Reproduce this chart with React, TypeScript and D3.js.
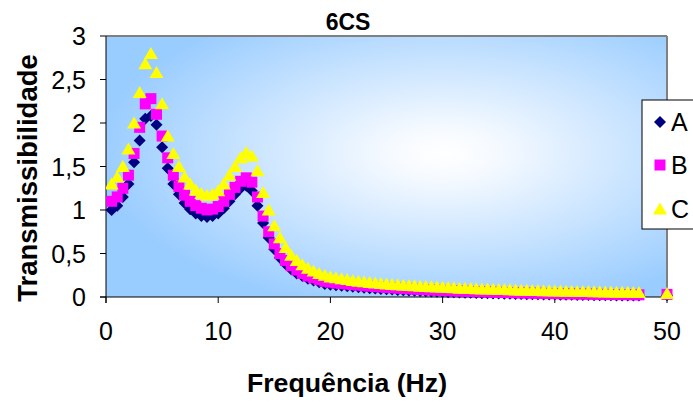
import React from "react";
import * as d3 from "d3";

const title = "6CS";
const xTitle = "Frequência (Hz)";
const yTitle = "Transmissibilidade";
const xTicks = [0, 10, 20, 30, 40, 50];
const yTicks = [0, 0.5, 1, 1.5, 2, 2.5, 3];
const yTickLabels = ["0", "0,5", "1", "1,5", "2", "2,5", "3"];
const seriesNames = ["A", "B", "C"];

const freq = [
  0.5, 1, 1.5, 2, 2.5, 3, 3.5, 4, 4.5, 5, 5.5, 6, 6.5, 7, 7.5, 8, 8.5, 9, 9.5, 10,
  10.5, 11, 11.5, 12, 12.5, 13, 13.5, 14, 14.5, 15, 15.5, 16, 16.5, 17, 17.5, 18, 18.5, 19, 19.5, 20,
  20.5, 21, 21.5, 22, 22.5, 23, 23.5, 24, 24.5, 25, 25.5, 26, 26.5, 27, 27.5, 28, 28.5, 29, 29.5, 30,
  30.5, 31, 31.5, 32, 32.5, 33, 33.5, 34, 34.5, 35, 35.5, 36, 36.5, 37, 37.5, 38, 38.5, 39, 39.5, 40,
  40.5, 41, 41.5, 42, 42.5, 43, 43.5, 44, 44.5, 45, 45.5, 46, 46.5, 47, 47.5, 50,
];

const seriesA = [
  1.0, 1.05, 1.15, 1.3, 1.55, 1.8, 2.05, 2.08, 1.98, 1.72, 1.48, 1.3, 1.18, 1.08, 1.01, 0.96, 0.93, 0.92, 0.93, 0.96,
  1.02, 1.1, 1.18, 1.25, 1.28, 1.22, 1.05, 0.85, 0.68, 0.55, 0.45, 0.38, 0.32, 0.27, 0.24, 0.21, 0.19, 0.17, 0.15, 0.14,
  0.135, 0.13, 0.124, 0.118, 0.112, 0.107, 0.102, 0.097, 0.093, 0.089, 0.085, 0.081, 0.078, 0.075, 0.072, 0.069, 0.066, 0.063, 0.061, 0.058,
  0.056, 0.054, 0.052, 0.05, 0.048, 0.046, 0.044, 0.043, 0.041, 0.04, 0.038, 0.037, 0.035, 0.034, 0.033, 0.032, 0.031, 0.03, 0.029, 0.028,
  0.027, 0.026, 0.025, 0.024, 0.023, 0.022, 0.021, 0.021, 0.02, 0.019, 0.018, 0.018, 0.017, 0.016, 0.016, 0.02,
];

const seriesB = [
  1.1, 1.15, 1.25, 1.4, 1.65, 1.95, 2.22, 2.28, 2.1, 1.85, 1.6, 1.4, 1.27, 1.17, 1.1, 1.05, 1.02, 1.0, 1.01, 1.04,
  1.1, 1.18, 1.26, 1.33, 1.37, 1.32, 1.15, 0.93, 0.75, 0.61, 0.5, 0.42, 0.36, 0.31, 0.27, 0.24, 0.22, 0.2, 0.18, 0.17,
  0.16, 0.155, 0.148, 0.142, 0.136, 0.13, 0.125, 0.12, 0.115, 0.11, 0.106, 0.102, 0.098, 0.094, 0.09, 0.087, 0.084, 0.081, 0.078, 0.075,
  0.072, 0.07, 0.068, 0.066, 0.064, 0.062, 0.06, 0.058, 0.056, 0.054, 0.052, 0.05, 0.049, 0.047, 0.046, 0.044, 0.043, 0.042, 0.04, 0.039,
  0.038, 0.037, 0.036, 0.035, 0.034, 0.033, 0.032, 0.031, 0.03, 0.029, 0.028, 0.028, 0.027, 0.026, 0.025, 0.03,
];

const seriesC = [
  1.3, 1.38, 1.5, 1.7, 2.0, 2.35, 2.68, 2.8, 2.58, 2.22, 1.85, 1.65, 1.5, 1.38, 1.3, 1.23, 1.19, 1.17, 1.18, 1.22,
  1.3, 1.4, 1.5, 1.6, 1.66, 1.62, 1.45, 1.2, 1.0, 0.82, 0.68, 0.57, 0.48, 0.42, 0.37, 0.33, 0.3, 0.27, 0.25, 0.23,
  0.22, 0.21, 0.2, 0.19, 0.182, 0.175, 0.168, 0.162, 0.156, 0.15, 0.145, 0.14, 0.136, 0.132, 0.128, 0.124, 0.12, 0.117, 0.114, 0.111,
  0.108, 0.105, 0.102, 0.1, 0.097, 0.095, 0.093, 0.091, 0.089, 0.087, 0.085, 0.083, 0.081, 0.079, 0.077, 0.076, 0.074, 0.072, 0.071, 0.07,
  0.068, 0.067, 0.065, 0.064, 0.063, 0.062, 0.06, 0.059, 0.058, 0.057, 0.056, 0.055, 0.054, 0.053, 0.052, 0.04,
];

const W = 693;
const H = 406;
const M = { left: 106, right: 667, top: 36, bottom: 297 };
const FONT = "'Liberation Sans', Arial, sans-serif";

const colors = ["#000080", "#FF00FF", "#FFFF00"];

export default function App() {
  const x = d3.scaleLinear().domain([0, 50]).range([M.left, M.right]);
  const y = d3.scaleLinear().domain([0, 3]).range([M.bottom, M.top]);
  const all = [seriesA, seriesB, seriesC];

  const diamondPath = "M0,-6L6,0L0,6L-6,0Z";
  const squarePath = "M-5.5,-5.5H5.5V5.5H-5.5Z";
  const triPath = "M0,-6.5L7,5.5H-7Z";
  const markerPaths = [diamondPath, squarePath, triPath];

  const legendX = 642;
  const legendY = 100;
  const legendItems = [122, 165, 209];

  return (
    <svg width={W} height={H} style={{ position: "absolute", left: 0, top: 0, background: "#fff" }}>
      <defs>
        <radialGradient id="bg" cx="0.6" cy="0.45" r="0.62" fx="0.6" fy="0.45">
          <stop offset="0" stopColor="#FFFFFF" />
          <stop offset="0.15" stopColor="#F6FAFF" />
          <stop offset="1" stopColor="#99CCFF" />
        </radialGradient>
        <clipPath id="pc">
          <rect x={M.left} y={M.top - 12} width={M.right - M.left + 10} height={M.bottom - M.top + 24} />
        </clipPath>
      </defs>
      <rect x={M.left} y={M.top} width={M.right - M.left} height={M.bottom - M.top} fill="url(#bg)" />
      <line x1={M.left} y1={M.top} x2={M.right} y2={M.top} stroke="#808080" strokeWidth={2} />
      <line x1={M.right} y1={M.top} x2={M.right} y2={M.bottom} stroke="#808080" strokeWidth={2} />
      <line x1={M.left} y1={M.top} x2={M.left} y2={M.bottom + 6} stroke="#000" strokeWidth={1} />
      <line x1={M.left - 6} y1={M.bottom} x2={M.right} y2={M.bottom} stroke="#000" strokeWidth={1} />
      {yTicks.map((t, i) => (
        <g key={"y" + i}>
          <line x1={M.left - 6} x2={M.left} y1={y(t)} y2={y(t)} stroke="#000" />
          <text x={M.left - 20} y={y(t)} dy="0.36em" textAnchor="end" fontFamily={FONT} fontSize={25}>
            {yTickLabels[i]}
          </text>
        </g>
      ))}
      {xTicks.map((t, i) => (
        <g key={"x" + i}>
          <line x1={x(t)} x2={x(t)} y1={M.bottom} y2={M.bottom + 6} stroke="#000" />
          <text x={x(t)} y={340} textAnchor="middle" fontFamily={FONT} fontSize={25}>
            {t}
          </text>
        </g>
      ))}
      <g clipPath="url(#pc)">
        {all.map((s, si) => (
          <g key={"s" + si}>
            {s.map((v, i) => (
              <path
                key={i}
                d={markerPaths[si]}
                transform={`translate(${x(freq[i])},${y(v)})`}
                fill={colors[si]}
              />
            ))}
          </g>
        ))}
      </g>
      <text x={348} y={30} textAnchor="middle" fontFamily={FONT} fontSize={23} fontWeight="bold">
        {title}
      </text>
      <text x={347} y={392} textAnchor="middle" fontFamily={FONT} fontSize={26.7} fontWeight="bold">
        {xTitle}
      </text>
      <text
        transform={`translate(37,${178}) rotate(-90)`}
        textAnchor="middle"
        fontFamily={FONT}
        fontSize={27.5}
        fontWeight="bold"
      >
        {yTitle}
      </text>
      <rect x={legendX} y={legendY} width={70} height={129} fill="#fff" stroke="#000" strokeWidth={1} />
      {seriesNames.map((n, i) => (
        <g key={"l" + i}>
          <path d={markerPaths[i]} transform={`translate(${legendX + 18},${legendItems[i]})`} fill={colors[i]} />
          <text x={legendX + 29} y={legendItems[i]} dy="0.36em" fontFamily={FONT} fontSize={25}>
            {n}
          </text>
        </g>
      ))}
    </svg>
  );
}
